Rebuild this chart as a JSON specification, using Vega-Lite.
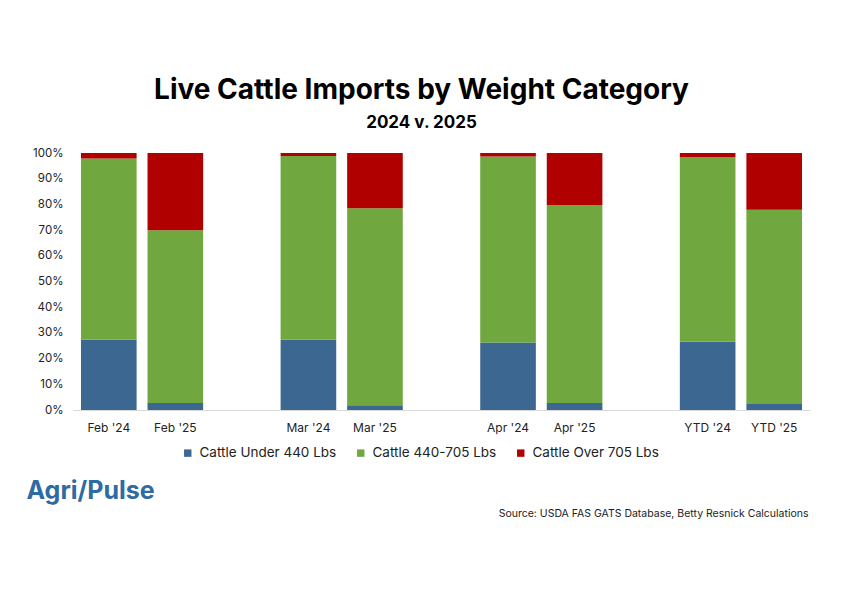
{
  "$schema": "https://vega.github.io/schema/vega-lite/v6.json",
  "autosize": {"type": "none"},
  "width": 737,
  "height": 257,
  "padding": {"left": 73, "top": 153, "right": 32, "bottom": 185},
  "background": "white",
  "config": {
    "font": "Inter",
    "view": {"stroke": null},
    "axis": {"labelFont": "Inter", "titleFont": "Inter"},
    "legend": {"labelFont": "Inter"}
  },
  "title": {
    "text": "Live Cattle Imports by Weight Category",
    "subtitle": "2024 v. 2025",
    "anchor": "middle",
    "frame": "group",
    "dx": -20,
    "offset": 16,
    "fontSize": 28,
    "fontWeight": "bold",
    "color": "#000000",
    "subtitleFontSize": 17,
    "subtitleFontWeight": "bold",
    "subtitleColor": "#000000",
    "subtitlePadding": 10
  },
  "data": {
    "values": [
      {"period": "Feb '24", "category": "Cattle Under 440 Lbs", "value": 27.3},
      {"period": "Feb '24", "category": "Cattle 440-705 Lbs", "value": 70.6},
      {"period": "Feb '24", "category": "Cattle Over 705 Lbs", "value": 2.1},
      {"period": "Feb '25", "category": "Cattle Under 440 Lbs", "value": 2.7},
      {"period": "Feb '25", "category": "Cattle 440-705 Lbs", "value": 67.2},
      {"period": "Feb '25", "category": "Cattle Over 705 Lbs", "value": 30.1},
      {"period": "Mar '24", "category": "Cattle Under 440 Lbs", "value": 27.3},
      {"period": "Mar '24", "category": "Cattle 440-705 Lbs", "value": 71.5},
      {"period": "Mar '24", "category": "Cattle Over 705 Lbs", "value": 1.2},
      {"period": "Mar '25", "category": "Cattle Under 440 Lbs", "value": 1.8},
      {"period": "Mar '25", "category": "Cattle 440-705 Lbs", "value": 76.7},
      {"period": "Mar '25", "category": "Cattle Over 705 Lbs", "value": 21.5},
      {"period": "Apr '24", "category": "Cattle Under 440 Lbs", "value": 26.3},
      {"period": "Apr '24", "category": "Cattle 440-705 Lbs", "value": 72.3},
      {"period": "Apr '24", "category": "Cattle Over 705 Lbs", "value": 1.4},
      {"period": "Apr '25", "category": "Cattle Under 440 Lbs", "value": 2.7},
      {"period": "Apr '25", "category": "Cattle 440-705 Lbs", "value": 77.1},
      {"period": "Apr '25", "category": "Cattle Over 705 Lbs", "value": 20.2},
      {"period": "YTD '24", "category": "Cattle Under 440 Lbs", "value": 26.6},
      {"period": "YTD '24", "category": "Cattle 440-705 Lbs", "value": 71.7},
      {"period": "YTD '24", "category": "Cattle Over 705 Lbs", "value": 1.7},
      {"period": "YTD '25", "category": "Cattle Under 440 Lbs", "value": 2.3},
      {"period": "YTD '25", "category": "Cattle 440-705 Lbs", "value": 75.6},
      {"period": "YTD '25", "category": "Cattle Over 705 Lbs", "value": 22.1}
    ]
  },
  "transform": [
    {"calculate": "datum.category === 'Cattle Under 440 Lbs' ? 0 : (datum.category === 'Cattle 440-705 Lbs' ? 1 : 2)", "as": "stackRank"}
  ],
  "mark": {"type": "bar"},
  "encoding": {
    "x": {
      "field": "period",
      "type": "nominal",
      "scale": {
        "domain": ["Feb '24", "Feb '25", " ", "Mar '24", "Mar '25", "  ", "Apr '24", "Apr '25", "   ", "YTD '24", "YTD '25"],
        "paddingInner": 0.164,
        "paddingOuter": 0.12
      },
      "axis": {
        "title": "Source: USDA FAS GATS Database, Betty Resnick Calculations",
        "titleFontSize": 10.5,
        "titleFontWeight": "normal",
        "titleColor": "#222222",
        "titleAnchor": "end",
        "titleAlign": "right",
        "titleBaseline": "middle",
        "titleX": 735,
        "titleY": 103,
        "labelAngle": 0,
        "labelFontSize": 12,
        "labelColor": "#222222",
        "labelPadding": 12,
        "ticks": false,
        "domainColor": "#D9D9D9",
        "domainWidth": 1,
        "grid": false
      }
    },
    "y": {
      "field": "value",
      "type": "quantitative",
      "stack": "normalize",
      "scale": {"domain": [0, 1]},
      "axis": {
        "values": [0, 0.1, 0.2, 0.3, 0.4, 0.5, 0.6, 0.7, 0.8, 0.9, 1],
        "format": ".0%",
        "labelFontSize": 11.5,
        "labelColor": "#222222",
        "labelPadding": 10,
        "ticks": false,
        "domain": false,
        "grid": false,
        "title": "Agri/Pulse",
        "titleAngle": 0,
        "titleAlign": "left",
        "titleBaseline": "alphabetic",
        "titleX": -47,
        "titleY": 345,
        "titleFontSize": 25,
        "titleFontWeight": "bold",
        "titleColor": "#2F6BA3"
      }
    },
    "color": {
      "field": "category",
      "type": "nominal",
      "scale": {
        "domain": ["Cattle Under 440 Lbs", "Cattle 440-705 Lbs", "Cattle Over 705 Lbs"],
        "range": ["#3B6790", "#70A83F", "#B00000"]
      },
      "legend": {
        "orient": "none",
        "direction": "horizontal",
        "legendX": 108,
        "legendY": 293,
        "title": null,
        "symbolType": "square",
        "symbolSize": 55,
        "symbolStrokeWidth": 0,
        "labelFontSize": 13.5,
        "labelColor": "#222222",
        "labelLimit": 0,
        "columnPadding": 17,
        "labelOffset": 5
      }
    },
    "order": {"field": "stackRank", "type": "quantitative", "sort": "ascending"}
  }
}
